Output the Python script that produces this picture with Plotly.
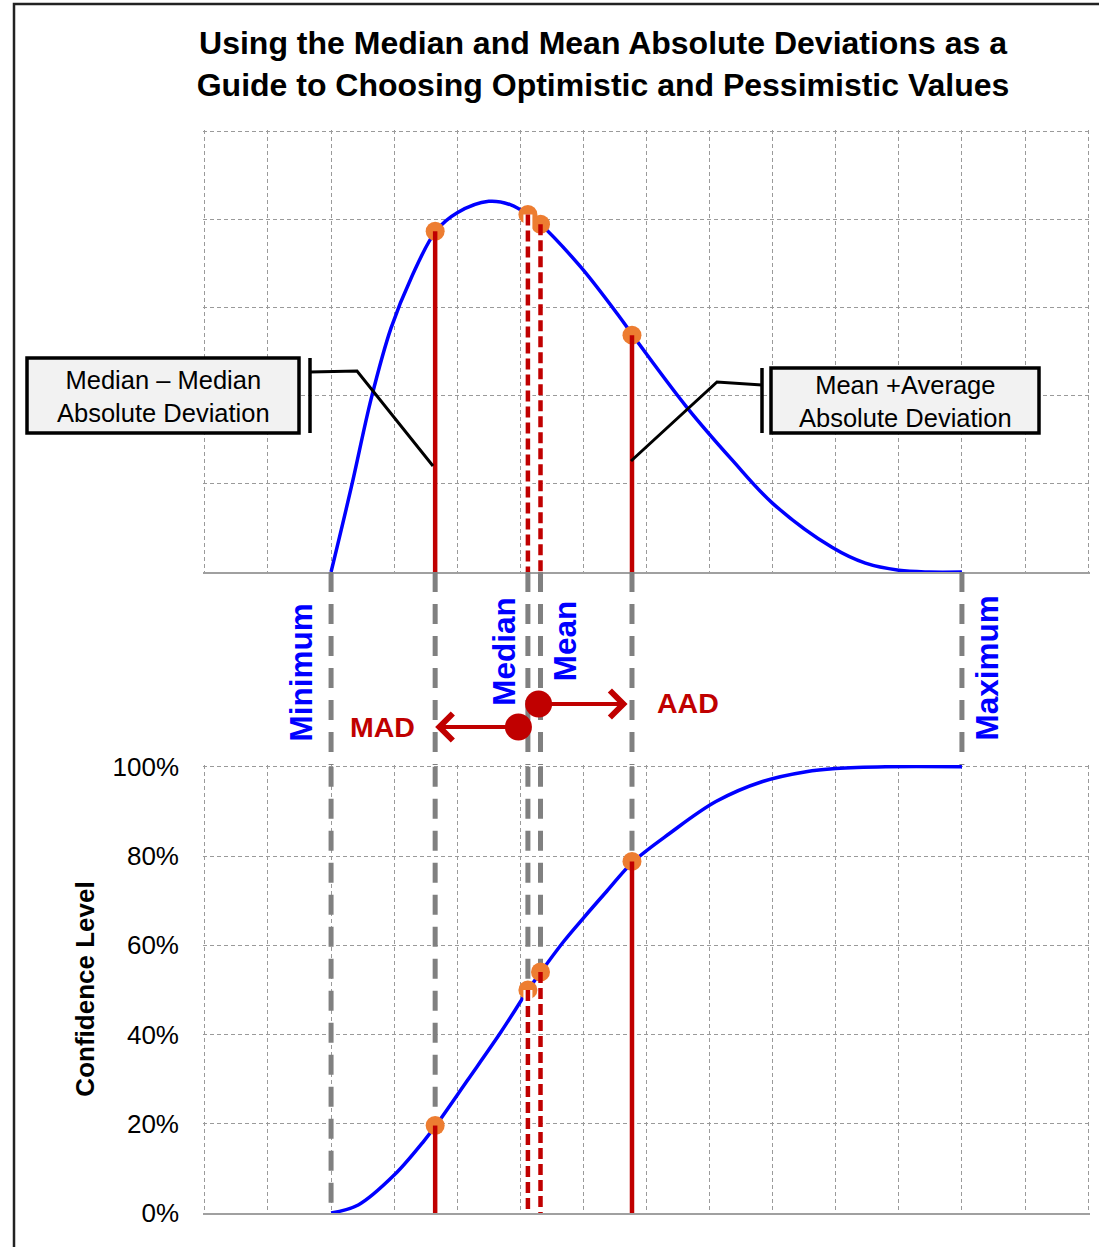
import plotly.graph_objects as go

# ---------------- data ----------------
# probability density (top panel, arbitrary density units)
pdf_x = [2.0, 2.32, 2.64, 2.95, 3.27, 3.66, 4.0, 4.5, 4.85, 5.12, 5.32, 5.95,
         6.58, 6.79, 7.64, 8.36, 9.0, 9.94, 10.47, 11.0, 11.48, 12.0]
pdf_y = [0.0, 0.96, 1.98, 2.77, 3.34, 3.87, 4.08, 4.21, 4.17, 4.06, 3.95, 3.47,
         2.89, 2.68, 1.87, 1.27, 0.78, 0.28, 0.10, 0.02, 0.0, 0.0]

# cumulative distribution (bottom panel, confidence level)
cdf_x = [2.0, 2.43, 3.0, 3.48, 3.66, 4.16, 4.69, 5.12, 5.32, 5.69, 6.0, 6.37, 6.78,
         7.37, 8.1, 8.84, 9.53, 10.0, 10.79, 12.0]
cdf_y = [0.0, 0.018, 0.085, 0.163, 0.196, 0.297, 0.405, 0.499, 0.539, 0.609, 0.661,
         0.721, 0.786, 0.851, 0.922, 0.967, 0.989, 0.996, 1.0, 1.0]

# key points: Median - MAD, Median, Mean, Mean + AAD
point_names = ["Median - MAD", "Median", "Mean", "Mean + AAD"]
point_x = [3.65, 5.12, 5.32, 6.77]
point_pdf = [3.87, 4.06, 3.95, 2.69]
point_cdf = [0.196, 0.50, 0.54, 0.788]
point_dashed = [False, True, True, False]

min_x = 2.0
max_x = 12.0

y_ticks = [0, 0.2, 0.4, 0.6, 0.8, 1.0]
y_ticklabels = ["0%", "20%", "40%", "60%", "80%", "100%"]

# ---------------- styling / layout constants ----------------
W, H = 1099, 1247
ML, MR, MT, MB = 203, 9, 130, 34
PW, PH = W - ML - MR, H - MT - MB
FONT = "Liberation Sans, Arial, sans-serif"
BLUE = "#0000FF"
RED = "#C00000"
ORANGE = "#ED7D31"
GRAY = "#808080"
GRID = "#9a9a9a"


def pxx(p):
    return (p - ML) / PW


def pxy(p):
    return (H - MB - p) / PH


top_dom = [pxy(572), 1.0]
bot_dom = [0.0, pxy(765)]
gap_dom = [bot_dom[1], top_dom[0]]
XR = [-0.03, 14.03]

fig = go.Figure()

# ---------------- top panel ----------------
fig.add_trace(go.Scatter(x=pdf_x, y=pdf_y, mode="lines", line=dict(color=BLUE, width=3.5, shape="spline", smoothing=1.0),
                         xaxis="x", yaxis="y", hoverinfo="skip"))
fig.add_trace(go.Scatter(x=point_x, y=point_pdf, mode="markers", marker=dict(color=ORANGE, size=19),
                         xaxis="x", yaxis="y", hoverinfo="skip"))
for name, x, yp, dashed in zip(point_names, point_x, point_pdf, point_dashed):
    if name == "Median":
        fig.add_trace(go.Scatter(x=[x, x], y=[yp, 0], mode="lines", line=dict(color="white", width=9),
                                 xaxis="x", yaxis="y", hoverinfo="skip"))
    fig.add_trace(go.Scatter(x=[x, x], y=[yp, 0], mode="lines",
                             line=dict(color=RED, width=4.5, dash="11px,5px" if dashed else "solid"),
                             xaxis="x", yaxis="y", hoverinfo="skip"))

# ---------------- gap: gray dashed connectors ----------------
gray_x = [min_x] + point_x + [max_x]
for x in gray_x:
    fig.add_trace(go.Scatter(x=[x, x], y=[1, 0], mode="lines", line=dict(color=GRAY, width=5, dash="20px,12px"),
                             xaxis="x3", yaxis="y3", hoverinfo="skip"))

# ---------------- bottom panel ----------------
gray_bottom = [0.0] + point_cdf
for x, yb in zip([min_x] + point_x, gray_bottom):
    fig.add_trace(go.Scatter(x=[x, x], y=[1, yb], mode="lines", line=dict(color=GRAY, width=5, dash="20px,12px"),
                             xaxis="x2", yaxis="y2", hoverinfo="skip"))
fig.add_trace(go.Scatter(x=cdf_x, y=cdf_y, mode="lines", line=dict(color=BLUE, width=3.5, shape="spline", smoothing=1.0),
                         xaxis="x2", yaxis="y2", hoverinfo="skip"))
fig.add_trace(go.Scatter(x=point_x, y=point_cdf, mode="markers", marker=dict(color=ORANGE, size=19),
                         xaxis="x2", yaxis="y2", hoverinfo="skip"))
for name, x, yc, dashed in zip(point_names, point_x, point_cdf, point_dashed):
    if name == "Median":
        fig.add_trace(go.Scatter(x=[x, x], y=[yc, 0], mode="lines", line=dict(color="white", width=9),
                                 xaxis="x2", yaxis="y2", hoverinfo="skip"))
    fig.add_trace(go.Scatter(x=[x, x], y=[yc, 0], mode="lines",
                             line=dict(color=RED, width=4.5, dash="11px,5px" if dashed else "solid"),
                             xaxis="x2", yaxis="y2", hoverinfo="skip"))

# ---------------- gap: MAD / AAD arrows ----------------
mad_circle = (4.97, 0.197)
aad_circle = (5.29, 0.316)
fig.add_trace(go.Scatter(x=[mad_circle[0], aad_circle[0]], y=[mad_circle[1], aad_circle[1]], mode="markers",
                         marker=dict(color=RED, size=27), xaxis="x3", yaxis="y3", hoverinfo="skip"))
fig.add_annotation(xref="x3", yref="y3", axref="x3", ayref="y3", x=point_x[0], y=mad_circle[1],
                   ax=mad_circle[0], ay=mad_circle[1], text="", showarrow=True, arrowhead=4,
                   arrowsize=1.3, arrowwidth=4, arrowcolor=RED)
fig.add_annotation(xref="x3", yref="y3", axref="x3", ayref="y3", x=point_x[3] - 0.07, y=aad_circle[1],
                   ax=aad_circle[0], ay=aad_circle[1], text="", showarrow=True, arrowhead=4,
                   arrowsize=1.3, arrowwidth=4, arrowcolor=RED)

# labels in gap
for txt, x, y in [("Minimum", 1.53, 0.482), ("Median", 4.74, 0.591), ("Mean", 5.71, 0.642), ("Maximum", 12.39, 0.503)]:
    fig.add_annotation(xref="x3", yref="y3", x=x, y=y, text="<b>%s</b>" % txt, textangle=-90, showarrow=False,
                       xanchor="center", yanchor="middle",
                       font=dict(family=FONT, size=31.5, color=BLUE))
for txt, x, y in [("MAD", 2.81, 0.197), ("AAD", 7.65, 0.321)]:
    fig.add_annotation(xref="x3", yref="y3", x=x, y=y, text="<b>%s</b>" % txt, showarrow=False,
                       xanchor="center", yanchor="middle",
                       font=dict(family=FONT, size=28.5, color=RED))

# ---------------- callout boxes ----------------
shapes = []
# outer frame
shapes.append(dict(type="rect", xref="paper", yref="paper", x0=pxx(14), x1=pxx(1110), y0=pxy(1260), y1=pxy(4),
                   line=dict(color="#222222", width=2.5), fillcolor="rgba(0,0,0,0)", layer="below"))
# left box
shapes.append(dict(type="rect", xref="paper", yref="paper", x0=pxx(27), x1=pxx(299), y0=pxy(433), y1=pxy(358),
                   line=dict(color="black", width=3.5), fillcolor="#F2F2F2"))
shapes.append(dict(type="line", xref="paper", yref="paper", x0=pxx(310), x1=pxx(310), y0=pxy(358), y1=pxy(433),
                   line=dict(color="black", width=3.5)))
shapes.append(dict(type="path", xref="paper", yref="paper",
                   path="M %f %f L %f %f L %f %f" % (pxx(310), pxy(372), pxx(357), pxy(371), pxx(433), pxy(466)),
                   line=dict(color="black", width=3)))
# right box
shapes.append(dict(type="rect", xref="paper", yref="paper", x0=pxx(771), x1=pxx(1039), y0=pxy(433), y1=pxy(368),
                   line=dict(color="black", width=3.5), fillcolor="#F2F2F2"))
shapes.append(dict(type="line", xref="paper", yref="paper", x0=pxx(762), x1=pxx(762), y0=pxy(368), y1=pxy(433),
                   line=dict(color="black", width=3.5)))
shapes.append(dict(type="path", xref="paper", yref="paper",
                   path="M %f %f L %f %f L %f %f" % (pxx(762), pxy(385), pxx(717), pxy(382), pxx(631), pxy(461)),
                   line=dict(color="black", width=3)))

fig.add_annotation(xref="paper", yref="paper", x=pxx(163), y=pxy(396), text="Median \u2013 Median<br>Absolute Deviation",
                   xanchor="center", yanchor="middle",
                   showarrow=False, font=dict(family=FONT, size=25.5, color="black"), align="center")
fig.add_annotation(xref="paper", yref="paper", x=pxx(905), y=pxy(401), text="Mean +Average<br>Absolute Deviation",
                   xanchor="center", yanchor="middle",
                   showarrow=False, font=dict(family=FONT, size=25.5, color="black"), align="center")

grid_common = dict(showgrid=True, gridcolor=GRID, gridwidth=1, griddash="4px,3px", zeroline=False,
                   fixedrange=True, automargin=False)

fig.update_layout(
    width=W, height=H,
    margin=dict(l=ML, r=MR, t=MT, b=MB),
    paper_bgcolor="white", plot_bgcolor="white",
    showlegend=False,
    shapes=shapes,
    title=dict(text="<b>Using the Median and Mean Absolute Deviations as a<br>Guide to Choosing Optimistic and Pessimistic Values</b>",
               xref="container", yref="container", x=603 / W, y=1 - 54 / H, xanchor="center", yanchor="middle",
               font=dict(family=FONT, size=32, color="black")),
    xaxis=dict(domain=[0, 1], anchor="y", range=XR, dtick=1, tick0=0, showticklabels=False, ticks="",
               showline=True, linecolor="#a0a0a0", linewidth=2, **grid_common),
    yaxis=dict(domain=top_dom, anchor="x", range=[0, 5.02], dtick=1, tick0=0, showticklabels=False, ticks="",
               showline=False, **grid_common),
    xaxis2=dict(domain=[0, 1], anchor="y2", range=XR, dtick=1, tick0=0, showticklabels=False, ticks="",
                matches="x", showline=True, linecolor="#a0a0a0", linewidth=2, **grid_common),
    yaxis2=dict(domain=bot_dom, anchor="x2", range=[0, 1.004], tickvals=y_ticks, ticktext=y_ticklabels, ticks="",
                ticklabelstandoff=23, showline=False,
                tickfont=dict(family=FONT, size=26, color="black"),
                title=dict(text="<b>Confidence Level</b>", font=dict(family=FONT, size=26, color="black"), standoff=10),
                **grid_common),
    xaxis3=dict(domain=[0, 1], anchor="y3", range=XR, matches="x", visible=False, fixedrange=True),
    yaxis3=dict(domain=gap_dom, anchor="x3", range=[0, 1], visible=False, fixedrange=True),
)

fig.write_html("out.html", config={"displayModeBar": False},
               post_script="document.body.style.margin='0px';")
